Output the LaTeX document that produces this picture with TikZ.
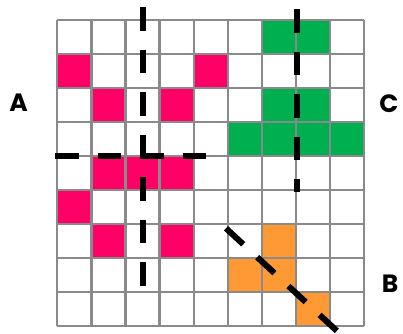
\documentclass[tikz,border=0pt]{standalone}
\usepackage{fontspec}
\setmainfont{Poppins}
\definecolor{pinkc}{HTML}{FF0066}
\definecolor{greenc}{HTML}{00B050}
\definecolor{orangec}{HTML}{FF9933}
\definecolor{gridc}{HTML}{8A8A8A}
\begin{document}
\begin{tikzpicture}[x=1pt,y=-1pt,
  cellpink/.style={fill=pinkc},
  cellgreen/.style={fill=greenc},
  cellorange/.style={fill=orangec},
  gridline/.style={draw=gridc,line width=2.3pt},
  cutline/.style={draw=black,line width=6pt,dash pattern=on 23.5pt off 19pt},
  lbl/.style={font=\fontsize{25}{25}\selectfont\bfseries,inner sep=0pt}]
\useasboundingbox (0,0) rectangle (403,333);
\def\cs{34.1}
% cells: (col,row)
\foreach \c/\r in {0/1,4/1,1/2,3/2,1/4,2/4,3/4,0/5,1/6,3/6}
  \fill[cellpink] ({57.3+\c*\cs},{20+\r*34.0}) rectangle ++(\cs,34.0);
\foreach \c/\r in {6/0,7/0,6/2,7/2,5/3,6/3,7/3,8/3}
  \fill[cellgreen] ({57.3+\c*\cs},{20+\r*34.0}) rectangle ++(\cs,34.0);
\foreach \c/\r in {6/6,5/7,6/7,7/8}
  \fill[cellorange] ({57.3+\c*\cs},{20+\r*34.0}) rectangle ++(\cs,34.0);
% grid
\foreach \i in {0,...,9} {
  \draw[gridline] ({57.3+\i*\cs},20) -- ({57.3+\i*\cs},326);
  \draw[gridline] (57.3,{20+\i*34.0}) -- (364.2,{20+\i*34.0});
}
% cut lines
\coordinate (v1a) at (143.3,7.3);
\coordinate (v1b) at (143.3,287);
\coordinate (h1a) at (55,156);
\coordinate (h1b) at (206,156);
\coordinate (v2a) at (296.5,9.3);
\coordinate (v2b) at (296.5,192);
\coordinate (da) at (226,228.3);
\coordinate (db) at (337,331);
\draw[cutline] (v1a) -- (v1b);
\draw[cutline] (h1a) -- (h1b);
\draw[cutline] (v2a) -- (v2b);
\draw[cutline] (da) -- (db);
% labels
\node[lbl] (A) at (18.5,102.5) {A};
\node[lbl] (C) at (389,104) {C};
\node[lbl] (B) at (390,284) {B};
\end{tikzpicture}
\end{document}
